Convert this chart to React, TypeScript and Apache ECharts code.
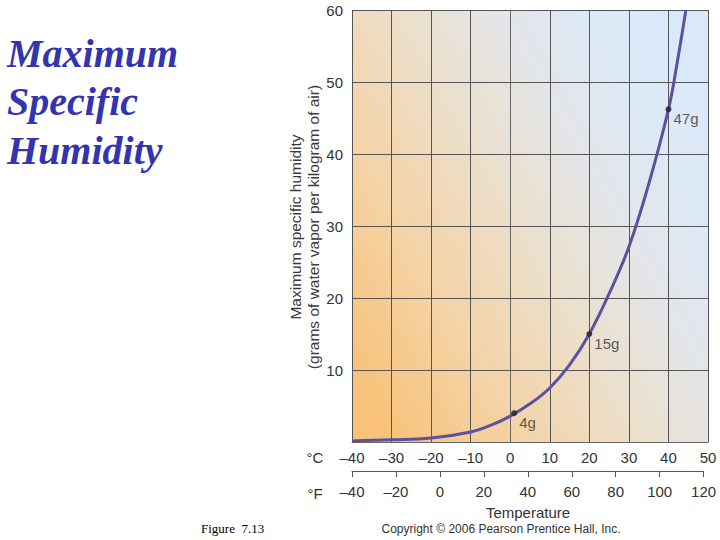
import React, { useEffect, useRef } from "react";
import * as echarts from "echarts";

const titleLines = ["Maximum", "Specific", "Humidity"];
const tempC = [-40, -30, -20, -10, -5, 0, 5, 10, 15, 20, 25, 30, 35, 40, 42, 44.4];
const humidity = [0.15, 0.3, 0.55, 1.4, 2.3, 3.6, 5.3, 7.5, 10.7, 15, 20.6, 27.1, 35.8, 46.2, 52, 60];
const markTemps = [1, 20, 40];
const markValues = [4, 15, 46.2];
const markLabels = ["4g", "15g", "47g"];
const yNameLines = ["Maximum specific humidity", "(grams of water vapor per kilogram of air)"];

const SANS = "'Liberation Sans', Arial, Helvetica, sans-serif";
const SERIF = "'Liberation Serif', 'Times New Roman', serif";

const fmt = (v: number) => (v < 0 ? "\u2013" + Math.abs(v) : String(v));

export default function App() {
  const ref = useRef<HTMLDivElement>(null);
  useEffect(() => {
    if (!ref.current) return;
    const chart = echarts.init(ref.current, null, { renderer: "svg" });
    const grid0 = { left: 352, top: 10, width: 356, height: 432 };
    chart.setOption({
      animation: false,
      backgroundColor: "#ffffff",
      grid: [
        {
          ...grid0,
          show: true,
          borderWidth: 0,
          backgroundColor: new echarts.graphic.LinearGradient(0, 0.84, 1, 0.16, [
            { offset: 0, color: "#f8c27a" },
            { offset: 0.25, color: "#f4d3a6" },
            { offset: 0.5, color: "#ebe0cf" },
            { offset: 0.68, color: "#e3e6ea" },
            { offset: 0.85, color: "#dce9f7" },
            { offset: 1, color: "#dae9fa" },
          ]),
        },
        { left: 352, top: 470, width: 351.6, height: 1 },
      ],
      xAxis: [
        {
          type: "value",
          gridIndex: 0,
          min: -40,
          max: 50,
          interval: 10,
          axisLine: { show: true, onZero: false, lineStyle: { color: "#666", width: 1 } },
          axisTick: { show: false },
          splitLine: { show: true, lineStyle: { color: "#555", width: 1 } },
          axisLabel: { color: "#333", fontSize: 15, fontFamily: SANS, margin: 8, formatter: fmt },
        },
        {
          type: "value",
          gridIndex: 1,
          min: -40,
          max: 120,
          interval: 20,
          position: "bottom",
          axisLine: { show: true, onZero: false, lineStyle: { color: "#555", width: 1 } },
          axisTick: { show: true, length: 6, lineStyle: { color: "#555" } },
          splitLine: { show: false },
          axisLabel: { color: "#333", fontSize: 15, fontFamily: SANS, margin: 13, formatter: fmt },
        },
      ],
      yAxis: [
        {
          type: "value",
          gridIndex: 0,
          min: 0,
          max: 60,
          interval: 10,
          axisLine: { show: true, lineStyle: { color: "#666", width: 1 } },
          axisTick: { show: false },
          splitLine: { show: true, lineStyle: { color: "#555", width: 1 } },
          axisLabel: {
            color: "#333",
            fontSize: 15,
            fontFamily: SANS,
            margin: 9,
            formatter: (v: number) => (v === 0 ? "" : String(v)),
          },
        },
        {
          type: "value",
          gridIndex: 1,
          show: false,
        },
      ],
      series: [
        {
          type: "line",
          xAxisIndex: 0,
          yAxisIndex: 0,
          data: tempC.map((t, i) => [t, humidity[i]]),
          smooth: 0.4,
          showSymbol: false,
          clip: true,
          lineStyle: { color: "#5a529f", width: 3 },
          z: 3,
        },
        {
          type: "scatter",
          xAxisIndex: 0,
          yAxisIndex: 0,
          data: markTemps.map((t, i) => [t, markValues[i]]),
          symbolSize: 6,
          itemStyle: { color: "#222" },
          label: {
            show: true,
            position: "right",
            distance: 2,
            offset: [0, 9],
            color: "#333",
            fontSize: 15,
            fontFamily: SANS,
            formatter: (p: any) => markLabels[p.dataIndex],
          },
          z: 4,
        },
      ],
      graphic: [
        ...titleLines.map((s, i) => ({
          type: "text",
          left: 7,
          top: 33 + i * 48.5,
          style: {
            text: s,
            font: `italic bold 40px ${SERIF}`,
            fill: "#3434b0",
          },
        })),
        ...yNameLines.map((s, i) => ({
          type: "text",
          x: 295 + i * 18,
          y: 227,
          rotation: Math.PI / 2,
          style: {
            text: s,
            fontSize: 15.5,
            fontFamily: SANS,
            fill: "#3a3a3a",
            align: "center",
            verticalAlign: "middle",
          },
        })),
        {
          type: "text",
          x: 315,
          y: 457,
          style: { text: "\u00b0C", fontSize: 15, fontFamily: SANS, fill: "#333", align: "center", verticalAlign: "middle" },
        },
        {
          type: "text",
          x: 315,
          y: 493,
          style: { text: "\u00b0F", fontSize: 15, fontFamily: SANS, fill: "#333", align: "center", verticalAlign: "middle" },
        },
        {
          type: "text",
          x: 528,
          y: 512,
          style: { text: "Temperature", fontSize: 15, fontFamily: SANS, fill: "#333", align: "center", verticalAlign: "middle" },
        },
        {
          type: "text",
          x: 501,
          y: 529,
          style: {
            text: "Copyright \u00a9 2006 Pearson Prentice Hall, Inc.",
            fontSize: 12,
            fontFamily: SANS,
            fill: "#333",
            align: "center",
            verticalAlign: "middle",
          },
        },
        {
          type: "text",
          x: 201,
          y: 528,
          style: { text: "Figure  7.13", fontSize: 13, fontFamily: SERIF, fill: "#000", align: "left", verticalAlign: "middle" },
        },
      ],
    });
    return () => chart.dispose();
  }, []);
  return (
    <div
      ref={ref}
      style={{ position: "fixed", left: 0, top: 0, width: 720, height: 540 }}
    />
  );
}
